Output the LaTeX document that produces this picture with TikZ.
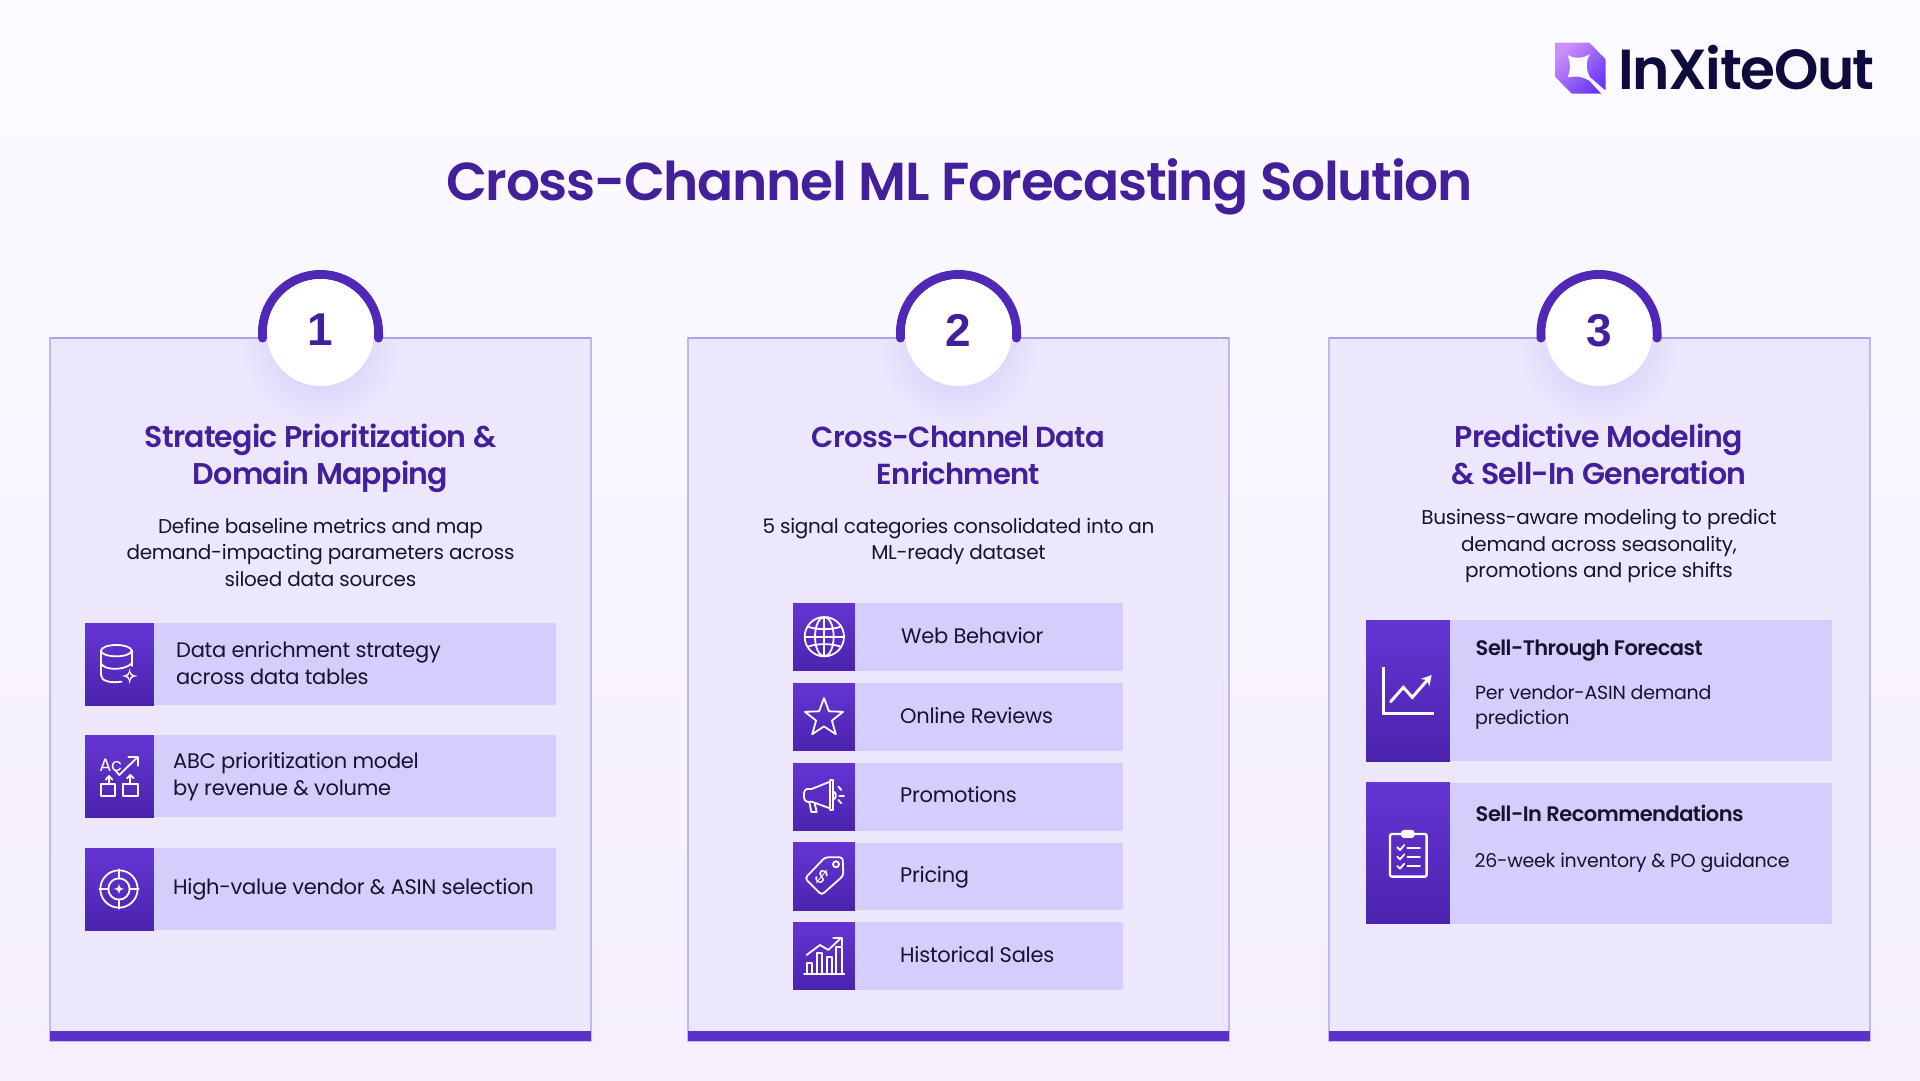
\documentclass[tikz,border=0pt]{standalone}
\usepackage{fontspec}
\usepackage{xcolor}
\setmainfont{Poppins}[LetterSpace=-1.4]
\newfontfamily\headfont{Poppins SemiBold}[LetterSpace=-2.5]
\newfontfamily\badgefont{Liberation Sans}
\usetikzlibrary{arrows.meta, positioning}
\usetikzlibrary{shapes}
\definecolor{pagetop}{HTML}{FCFBFF}
\definecolor{pagebottom}{HTML}{F5EFFE}
\definecolor{cardfill}{HTML}{ECE7FD}
\definecolor{cardedge}{HTML}{C2B6F5}
\definecolor{cardtop}{HTML}{AEA2DE}
\definecolor{barviolet}{HTML}{5B32C8}
\definecolor{ringviolet}{HTML}{5028B8}
\definecolor{titleviolet}{HTML}{43209B}
\definecolor{rowlilac}{HTML}{D3CEFB}
\definecolor{icontop}{HTML}{6535D4}
\definecolor{iconbottom}{HTML}{4C23AE}
\definecolor{inkdark}{HTML}{17132E}
\definecolor{logoink}{HTML}{0E0B3D}
\definecolor{logolight}{HTML}{CB90F8}
\definecolor{logodeep}{HTML}{6A37F6}
\definecolor{glow}{HTML}{CFC6FA}
\tikzset{
    cardbox/.style={draw=cardedge, fill=cardfill, line width=2.2pt, anchor=north west, minimum width=541pt, minimum height=703pt, inner sep=0pt, outer sep=0pt},
    cardbar/.style={fill=barviolet, anchor=south west, minimum width=541pt, minimum height=10pt, inner sep=0pt, outer sep=0pt},
    cardhead/.style={text=titleviolet, align=center, font=\headfont\fontsize{30}{37}\selectfont, inner sep=0pt},
    carddesc/.style={text=inkdark, align=center, font=\fontsize{20}{26.5}\selectfont, inner sep=0pt},
    iconbox/.style={top color=icontop, bottom color=iconbottom, anchor=north west, inner sep=0pt, outer sep=0pt},
    rowstrip/.style={fill=rowlilac, anchor=west, inner sep=0pt, outer sep=0pt},
    rowtext/.style={text=inkdark, align=left, font=\fontsize{21}{27}\selectfont, inner sep=0pt},
    rowsingle/.style={rowtext, text height=15pt, text depth=5pt},
    rowhead/.style={text=inkdark, anchor=west, font=\headfont\fontsize{21}{27}\selectfont, inner sep=0pt},
    rowsub/.style={text=inkdark, anchor=west, align=left, font=\fontsize{19}{24.5}\selectfont, inner sep=0pt},
    iconlines/.style={x=0.3333pt, y=-0.3333pt, white, line width=1.8pt, line join=round, line cap=round},
    badgedisc/.style={circle, fill=white, minimum size=107pt, inner sep=0pt, text=titleviolet, font=\badgefont\bfseries\fontsize{46}{46}\selectfont},
}
% one card with its number on top
\newcommand{\stepcard}[4]{%
    \node[cardbox] (card#1) at (#2,338) {};
    \node[cardbar] (bar#1) at (card#1.south west) {};
    \begin{scope}
        \clip (card#1.north west) rectangle (card#1.south east);
        \shade[inner color=glow, outer color=cardfill] (#3,345) circle (80);
    \end{scope}
    \draw[cardtop, line width=2pt] (card#1.north west) -- (card#1.north east);
    \draw[ringviolet, line width=9pt, line cap=round] (#3-58,338) -- (#3-58,332.5) .. controls (#3-58,300.5) and (#3-32,274.5) .. (#3,274.5) .. controls (#3+32,274.5) and (#3+58,300.5) .. (#3+58,332.5) -- (#3+58,338);
    \node[badgedisc, text depth=5pt] (badge#1) at (#3,332.5) {#4};
}
\begin{document}
\begin{tikzpicture}[x=1pt, y=-1pt, >={Stealth[length=6pt]}]
    \fill[top color=pagetop, bottom color=pagebottom] (0,0) rectangle (1920,1080);
    \useasboundingbox (0,0) rectangle (1920,1080);

    % logo
    \begin{scope}[shift={(1500,20)}, x=0.3333pt, y=-0.3333pt]
        \shade[top color=logolight, middle color=logodeep, bottom color=logodeep, shading angle=45] (165,68) -- (268,68) -- (317,118) -- (317,208) -- (304,221) -- (215,221) -- (165,170) -- cycle;
        \fill[pagetop] (203,105) .. controls (225,118) and (250,115) .. (270,102) .. controls (256,125) and (258,150) .. (270,172) -- (317,212) -- (304,221) -- (268,182) .. controls (245,168) and (225,168) .. (203,172) .. controls (212,150) and (212,125) .. (203,105) -- cycle;
    \end{scope}
    \node[text=logoink, anchor=base west, inner sep=0pt, font=\headfont\fontsize{56.5}{56}\selectfont] (logotext) at (1618,89) {InXiteOut};

    \node[text=titleviolet, inner sep=0pt, font=\headfont\fontsize{53.4}{60}\selectfont] (title) at (959.5,187) {Cross-Channel ML Forecasting Solution};

    \stepcard{1}{50}{320.5}{1}
    \stepcard{2}{688}{958.5}{2}
    \stepcard{3}{1329}{1599}{3}

    % first card
    \node[cardhead] (head1) at (320.5,458.5) {Strategic Prioritization \&\\Domain Mapping};
    \node[carddesc] (desc1) at (320.5,552) {Define baseline metrics and map\\demand-impacting parameters across\\siloed data sources};
    \node[iconbox, minimum width=69pt, minimum height=82pt] (ico11) at (85,623) {};
    \node[iconbox, minimum width=69pt, minimum height=82pt] (ico12) at (85,735) {};
    \node[iconbox, minimum width=69pt, minimum height=82pt] (ico13) at (85,848) {};
    \node[rowstrip, minimum width=402pt, minimum height=82pt, right=0pt of ico11] (strip11) {};
    \node[rowstrip, minimum width=402pt, minimum height=82pt, right=0pt of ico12] (strip12) {};
    \node[rowstrip, minimum width=402pt, minimum height=82pt, right=0pt of ico13] (strip13) {};
    \node[rowtext, right=22pt of ico11, yshift=1pt] (text11) {Data enrichment strategy\\across data tables};
    \node[rowtext, right=19pt of ico12, yshift=-1pt] (text12) {ABC prioritization model\\by revenue \& volume};
    \node[rowtext, right=19pt of ico13] (text13) {High-value vendor \& ASIN selection};

    % database
    \begin{scope}[shift={(60,600)}, iconlines]
        \draw (169,152) ellipse (46 and 17);
        \draw (123,152) -- (123,225) .. controls (123,243) and (150,250) .. (185,245);
        \draw (215,152) -- (215,198);
        \draw (123,190) .. controls (132,212) and (195,212) .. (215,190);
        \fill (209,205) .. controls (212,222) and (215,225) .. (233,228) .. controls (215,231) and (212,234) .. (209,252) .. controls (206,234) and (203,231) .. (185,228) .. controls (203,225) and (206,222) .. (209,205) -- cycle;
        \fill[iconbottom!70!icontop] (209,217) .. controls (210,226) and (211,227) .. (221,228) .. controls (211,229) and (210,230) .. (209,240) .. controls (208,230) and (207,229) .. (197,228) .. controls (207,227) and (208,226) .. (209,217) -- cycle;
    \end{scope}
    % letters, tick and boxes
    \begin{scope}[shift={(60,600)}, iconlines]
        \node[white, inner sep=0pt, font=\fontsize{18}{18}\selectfont] (acglyph) at (152,495) {Ac};
        \draw (165,510) -- (178,525) -- (232,472);
        \draw (205,470) -- (233,470) -- (233,497);
        \draw (122,553) rectangle (165,588);
        \draw (190,553) rectangle (233,588);
        \draw (147,553) -- (147,530);
        \draw (137,539) -- (147,528) -- (157,539);
        \draw (211,553) -- (211,525);
        \draw (201,535) -- (211,525) -- (221,535);
    \end{scope}
    % target
    \begin{scope}[shift={(60,600)}, iconlines]
        \draw (177,867) circle (56);
        \draw (177,867) circle (32);
        \draw (177,808) -- (177,836);
        \draw (177,898) -- (177,926);
        \draw (118,867) -- (146,867);
        \draw (208,867) -- (236,867);
        \fill (177,851) .. controls (179,863) and (181,865) .. (193,867) .. controls (181,869) and (179,871) .. (177,883) .. controls (175,871) and (173,869) .. (161,867) .. controls (173,865) and (175,863) .. (177,851) -- cycle;
    \end{scope}

    % second card
    \node[cardhead, font=\headfont\fontsize{29}{37}\selectfont] (head2) at (958.5,455) {Cross-Channel Data\\Enrichment};
    \node[carddesc] (desc2) at (958.5,541.5) {5 signal categories consolidated into an\\ML-ready dataset};
    \node[iconbox, minimum width=62pt, minimum height=67.5pt] (ico21) at (793,603) {};
    \node[iconbox, minimum width=62pt, minimum height=67.5pt] (ico22) at (793,683) {};
    \node[iconbox, minimum width=62pt, minimum height=67.5pt] (ico23) at (793,763) {};
    \node[iconbox, minimum width=62pt, minimum height=67.5pt] (ico24) at (793,842.5) {};
    \node[iconbox, minimum width=62pt, minimum height=67.5pt] (ico25) at (793,922) {};
    \node[rowstrip, minimum width=268pt, minimum height=67.5pt, right=0pt of ico21] (strip21) {};
    \node[rowstrip, minimum width=268pt, minimum height=67.5pt, right=0pt of ico22] (strip22) {};
    \node[rowstrip, minimum width=268pt, minimum height=67.5pt, right=0pt of ico23] (strip23) {};
    \node[rowstrip, minimum width=268pt, minimum height=67.5pt, right=0pt of ico24] (strip24) {};
    \node[rowstrip, minimum width=268pt, minimum height=67.5pt, right=0pt of ico25] (strip25) {};
    \node[rowsingle, right=46pt of ico21, yshift=-1.5pt] (text21) {Web Behavior};
    \node[rowsingle, right=45pt of ico22, yshift=-1.5pt] (text22) {Online Reviews};
    \node[rowsingle, right=45pt of ico23, yshift=-1pt] (text23) {Promotions};
    \node[rowsingle, right=45pt of ico24, yshift=-1pt] (text24) {Pricing};
    \node[rowsingle, right=45pt of ico25, yshift=-1.5pt] (text25) {Historical Sales};

    % globe
    \begin{scope}[shift={(780,590)}, iconlines]
        \draw (133,140) circle (59);
        \draw (133,140) ellipse (28 and 59);
        \draw (74,140) -- (192,140);
        \draw (133,81) -- (133,199);
        \draw (84,110) .. controls (110,120) and (156,120) .. (182,110);
        \draw (84,170) .. controls (110,160) and (156,160) .. (182,170);
    \end{scope}
    \node[star, star points=5, star point ratio=2.4, draw=white, line width=1.8pt, line join=round, inner sep=0pt, minimum size=40pt] (staricon) at (824,718) {};
    % megaphone
    \begin{scope}[shift={(780,590)}, iconlines]
        \draw (150,575) -- (95,597) -- (82,597) .. controls (68,597) and (68,635) .. (82,635) -- (95,635) -- (150,655) -- cycle;
        \draw (150,570) -- (160,570) -- (160,660) -- (150,660);
        \draw (88,636) -- (94,666) -- (110,666) -- (104,640);
        \draw (175,590) -- (184,600);
        \draw (178,617) -- (192,617);
        \draw (175,630) -- (184,640);
        \draw (160,605) .. controls (170,605) and (170,628) .. (160,628);
    \end{scope}
    % price tag
    \begin{scope}[shift={(780,590)}, iconlines]
        \draw[rounded corners=3pt] (75,865) -- (125,915) -- (190,857) -- (188,802) -- (135,802) -- cycle;
        \draw (168,823) circle (9);
        \node[white, inner sep=0pt, rotate=-40, font=\fontsize{19}{19}\selectfont] (dollarglyph) at (126,862) {\$};
    \end{scope}
    % bars and rising line
    \begin{scope}[shift={(780,590)}, iconlines]
        \draw (72,1153) -- (193,1153);
        \draw (80,1153) -- (80,1120) -- (97,1120) -- (97,1153);
        \draw (110,1153) -- (110,1090) -- (127,1090) -- (127,1153);
        \draw (140,1153) -- (140,1100) -- (157,1100) -- (157,1153);
        \draw (168,1153) -- (168,1072) -- (187,1072) -- (187,1153);
        \draw (80,1095) -- (120,1065) -- (145,1080) -- (184,1043);
        \draw (160,1043) -- (185,1043) -- (185,1066);
    \end{scope}

    % third card
    \node[cardhead] (head3) at (1599,454.5) {Predictive Modeling\\\& Sell-In Generation};
    \node[carddesc] (desc3) at (1599,546) {Business-aware modeling to predict\\demand across seasonality,\\promotions and price shifts};
    \node[iconbox, minimum width=84pt, minimum height=141pt] (ico31) at (1366,620) {};
    \node[iconbox, minimum width=84pt, minimum height=141pt] (ico32) at (1366,782.5) {};
    \node[rowstrip, minimum width=382pt, minimum height=141pt, right=0pt of ico31] (strip31) {};
    \node[rowstrip, minimum width=382pt, minimum height=141pt, right=0pt of ico32] (strip32) {};
    \node[rowhead] (rowhead31) at (1475.5,651) {Sell-Through Forecast};
    \node[rowsub] (rowsub31) at (1475,707.5) {Per vendor-ASIN demand\\prediction};
    \node[rowhead] (rowhead32) at (1475.5,813) {Sell-In Recommendations};
    \node[rowsub] (rowsub32) at (1474.5,863) {26-week inventory \& PO guidance};

    % trend chart
    \begin{scope}[shift={(1350,610)}, iconlines]
        \draw[line width=3pt, line cap=butt, line join=miter] (100,172) -- (100,310) -- (252,310);
        \draw[line width=3pt, -{Stealth[length=10pt, width=11pt]}, line join=miter] (122,275) -- (160,232) -- (187,262) -- (245,195);
    \end{scope}
    % clipboard
    \begin{scope}[shift={(1350,610)}, iconlines]
        \draw[line width=2.4pt, rounded corners=2pt] (120,672) rectangle (230,800);
        \fill[rounded corners=3pt] (153,660) rectangle (194,684);
        \draw (142,712) -- (150,720) -- (163,705);
        \draw (142,740) -- (150,748) -- (163,733);
        \draw (142,768) -- (150,776) -- (163,761);
        \draw (172,714) -- (210,714);
        \draw (172,742) -- (210,742);
        \draw (172,768) -- (210,768);
    \end{scope}
\end{tikzpicture}
\end{document}
